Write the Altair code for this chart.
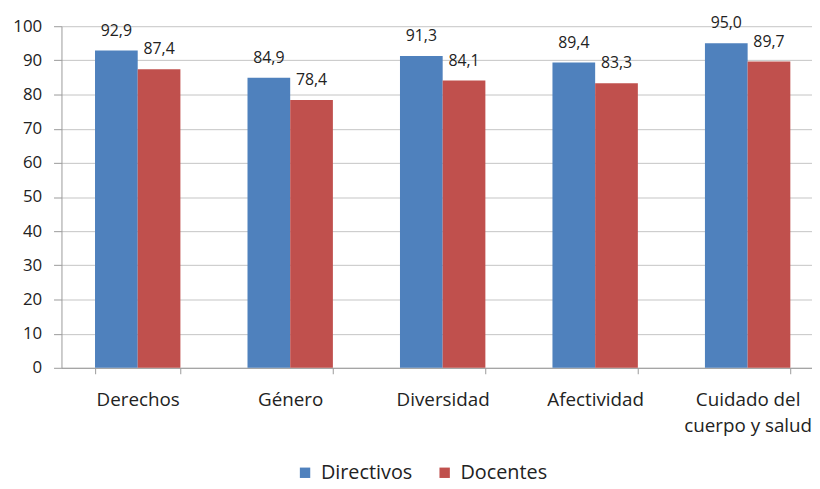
import altair as alt
import pandas as pd

categories = ["Derechos", "Género", "Diversidad", "Afectividad", "Cuidado del cuerpo y salud"]
directivos = [92.9, 84.9, 91.3, 89.4, 95.0]
docentes = [87.4, 78.4, 84.1, 83.3, 89.7]
series = ["Directivos", "Docentes"]
colors = ["#4F81BD", "#C0504D"]
y_ticks = list(range(0, 101, 10))

rows = []
for c, d, e in zip(categories, directivos, docentes):
    rows.append({"cat": c, "serie": series[0], "val": d})
    rows.append({"cat": c, "serie": series[1], "val": e})
df = pd.DataFrame(rows)
df["lbl"] = df["val"].map(lambda v: f"{v:.1f}".replace(".", ","))

FONT = "Open Sans"

xscale = alt.Scale(domain=categories, range=[0, 770], paddingInner=0.44, paddingOuter=0.22)

x_enc = alt.X(
    "cat:N", scale=xscale, sort=categories,
    axis=alt.Axis(
        title=None, labelAngle=0, tickBand="extent",
        labelExpr="datum.value == 'Cuidado del cuerpo y salud' ? ['Cuidado del', 'cuerpo y salud'] : datum.label",
        labelFontSize=19, labelFont=FONT, labelColor="#222222", labelLimit=300,
        labelPadding=17, labelLineHeight=26, tickSize=6, tickColor="#9A9A9A",
        domainColor="#9A9A9A", grid=False,
    ),
)
y_enc = alt.Y(
    "val:Q", scale=alt.Scale(domain=[0, 100], nice=False),
    axis=alt.Axis(
        title=None, values=y_ticks, grid=True, gridColor="#C4C4C4",
        labelFontSize=17, labelFont=FONT, labelColor="#222222", labelPadding=12,
        tickSize=8, tickColor="#9A9A9A", domainColor="#9A9A9A",
    ),
)
xo = alt.XOffset("serie:N", sort=series, scale=alt.Scale(domain=series))

bars = alt.Chart(df).mark_bar().encode(
    x=x_enc, y=y_enc, xOffset=xo,
    color=alt.Color(
        "serie:N", scale=alt.Scale(domain=series, range=colors),
        legend=alt.Legend(
            title=None, orient="none", legendX=236, legendY=441, direction="horizontal",
            symbolType="square", symbolSize=110, symbolStrokeWidth=0,
            labelFontSize=20, labelFont=FONT, labelColor="#222222", columnPadding=22,
            labelOffset=6,
        ),
    ),
)
labels = alt.Chart(df).mark_text(
    baseline="middle", dy=-20, fontSize=16, font=FONT, color="#222222"
).encode(x=x_enc, y=y_enc, xOffset=xo, text="lbl:N")

chart = (bars + labels).properties(
    width=758, height=345,
    autosize=alt.AutoSizeParams(type="none"),
    padding={"left": 54, "top": 16, "right": 0, "bottom": 120},
    background="white",
).configure_view(stroke=None)

chart.save("out.html", embed_options={"renderer": "svg", "actions": False})
